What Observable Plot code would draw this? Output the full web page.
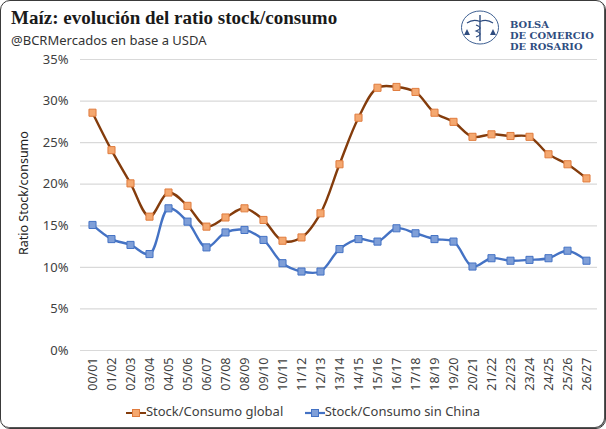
<!DOCTYPE html>
<html>
<head>
<meta charset="utf-8">
<script src="https://cdn.jsdelivr.net/npm/d3@7"></script>
<script src="https://cdn.jsdelivr.net/npm/@observablehq/plot@0.6"></script>
<style>
  html, body { margin: 0; padding: 0; background: #fff; }
  #frame {
    position: relative; box-sizing: border-box;
    width: 606px; height: 429px;
    border: 1px solid #3a3a3a; border-radius: 10px;
    box-shadow: inset -1px -1px 0 #555;
    font-family: "Noto Sans", sans-serif; overflow: hidden;
  }
  #title {
    position: absolute; left: 10px; top: 6px;
    font-family: "Liberation Serif", serif; font-weight: bold;
    font-size: 19px; color: #1a1a1a;
  }
  #subtitle {
    position: absolute; left: 10px; top: 30px;
    font-size: 13px; color: #333;
  }
  #logo { position: absolute; left: 459px; top: 8px; }
  #logotext {
    position: absolute; left: 509px; top: 18px;
    font-family: "DejaVu Serif", serif; font-weight: bold; white-space: nowrap;
    font-size: 9.9px; line-height: 11px; color: #2f4d80;
  }
  #chart { position: absolute; left: 0; top: 49px; }
  #legend {
    position: absolute; left: 0; width: 604px; top: 401px;
    text-align: center; font-size: 13px; color: #404040;
  }
  #legend span.item { display: inline-block; margin: 0 9px; }
  #legend svg { vertical-align: -2px; }
</style>
</head>
<body>
<div id="frame">
  <div id="title">Maíz: evolución del ratio stock/consumo</div>
  <div id="subtitle">@BCRMercados en base a USDA</div>
  <svg id="logo" width="42" height="38">
    <ellipse cx="20" cy="18.5" rx="18.5" ry="16.5" fill="none" stroke="#3d5f92" stroke-width="1"/>
    <line x1="20" y1="6" x2="20" y2="32" stroke="#2f4d80" stroke-width="1.4"/>
    <path d="M7 14 Q13 9.5 20 12.5 Q27 9.5 33 14" fill="none" stroke="#2f4d80" stroke-width="1.2"/>
    <path d="M7 20 l-3 6 h6 z M33 20 l-3 6 h6 z" fill="#2f4d80"/>
    <path d="M16 16 q8 3 0 6 q8 3 0 6" fill="none" stroke="#2f4d80" stroke-width="1.1"/>
  </svg>
  <div id="logotext">BOLSA<br>DE COMERCIO<br>DE ROSARIO</div>
  <div id="chart"></div>
  <div id="legend">
    <span class="item"><svg width="20" height="10"><line x1="0" y1="5" x2="20" y2="5" stroke="#843c0c" stroke-width="2.2"/><rect x="6.5" y="1.5" width="7" height="7" fill="#f4a870" stroke="#e07c3e"/></svg>Stock/Consumo global</span>
    <span class="item"><svg width="20" height="10"><line x1="0" y1="5" x2="20" y2="5" stroke="#4472c4" stroke-width="2.2"/><rect x="6.5" y="1.5" width="7" height="7" fill="#7f9fd8" stroke="#4472c4"/></svg>Stock/Consumo sin China</span>
  </div>
</div>
<script>
// campañas
const campanias = ["00/01","01/02","02/03","03/04","04/05","05/06","06/07","07/08","08/09","09/10",
  "10/11","11/12","12/13","13/14","14/15","15/16","16/17","17/18","18/19","19/20",
  "20/21","21/22","22/23","23/24","24/25","25/26","26/27"];

// ratio stock/consumo global (%)
const global = [28.6, 24.1, 20.1, 16.1, 19.0, 17.4, 14.9, 16.0, 17.1, 15.7,
  13.2, 13.6, 16.5, 22.4, 28.0, 31.6, 31.7, 31.1, 28.6, 27.5,
  25.7, 26.0, 25.8, 25.7, 23.6, 22.4, 20.7];

// ratio stock/consumo sin China (%)
const sinChina = [15.1, 13.4, 12.7, 11.6, 17.1, 15.5, 12.4, 14.2, 14.5, 13.3,
  10.5, 9.5, 9.5, 12.2, 13.4, 13.1, 14.7, 14.1, 13.4, 13.1,
  10.1, 11.1, 10.8, 10.9, 11.1, 12.0, 10.8];

const yTicks = [0, 0.05, 0.10, 0.15, 0.20, 0.25, 0.30, 0.35];

const dGlobal = campanias.map((c, i) => ({c, v: global[i] / 100}));
const dChina = campanias.map((c, i) => ({c, v: sinChina[i] / 100}));

const chart = Plot.plot({
  width: 604,
  height: 346,
  marginLeft: 79,
  marginRight: 8,
  marginTop: 9,
  marginBottom: 46,
  style: {fontFamily: "Noto Sans, sans-serif", fontSize: "12.5px", color: "#404040"},
  x: {type: "point", domain: campanias, padding: 0.5},
  y: {domain: [0, 0.35]},
  marks: [
    Plot.gridY(yTicks, {stroke: "#d9d9d9", strokeOpacity: 1, strokeWidth: 1.2}),
    Plot.axisY(yTicks, {tickSize: 0, tickPadding: 12, tickFormat: d3.format(".0%"), label: null, fontSize: 13}),
    Plot.axisX({tickSize: 0, tickPadding: 7, tickRotate: -90, label: null, fontSize: 12.5}),
    Plot.text(["Ratio Stock/consumo"], {frameAnchor: "left", rotate: -90, dx: -57, dy: 50, fontSize: 12.5, fill: "#222"}),
    Plot.line(dGlobal, {x: "c", y: "v", stroke: "#843c0c", strokeWidth: 2.4, curve: "catmull-rom"}),
    Plot.line(dChina, {x: "c", y: "v", stroke: "#4472c4", strokeWidth: 2.4, curve: "catmull-rom"}),
    Plot.dot(dGlobal, {x: "c", y: "v", symbol: "square", r: 4, fill: "#f4a870", stroke: "#e07c3e", strokeWidth: 1}),
    Plot.dot(dChina, {x: "c", y: "v", symbol: "square", r: 4, fill: "#7f9fd8", stroke: "#4472c4", strokeWidth: 1})
  ]
});
document.getElementById("chart").append(chart);
</script>
</body>
</html>
